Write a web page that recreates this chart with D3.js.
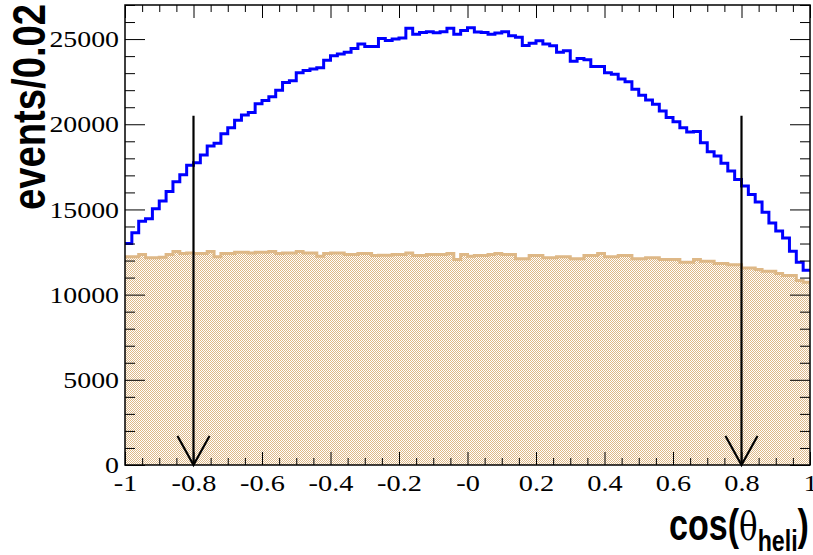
<!DOCTYPE html>
<html>
<head>
<meta charset="utf-8">
<script src="https://cdn.jsdelivr.net/npm/d3@7"></script>
<style>
  html, body { margin: 0; padding: 0; background: #ffffff; }
  svg { display: block; }
</style>
</head>
<body>
<svg id="chart" width="813" height="555"></svg>
<script>
// ---------------- DATA ----------------
const xRange = [-1, 1];
const binWidth = 0.02;

// blue histogram (events / 0.02), 100 bins from -1 to 1
const blueCounts = [
  13000, 13630, 14310, 14450, 15040, 15490, 16060, 16630, 17040, 17590,
  17740, 18200, 18730, 18880, 19450, 19800, 20240, 20550, 20690, 21200,
  21390, 21610, 22000, 22450, 22550, 23020, 23160, 23240, 23310, 23750,
  24020, 24120, 24230, 24450, 24710, 24570, 24570, 25040, 24920, 25000,
  25060, 25630, 25290, 25390, 25430, 25370, 25430, 25630, 25290, 25500,
  25660, 25410, 25390, 25290, 25350, 25430, 25200, 25100, 24630, 24760,
  24900, 24710, 24610, 24230, 24310, 23700, 23860, 23780, 23390, 23390,
  23030, 22940, 22650, 22490, 22060, 21710, 21430, 21180, 20780, 20390,
  20140, 19800, 19550, 19570, 18920, 18390, 18140, 17710, 17250, 16760,
  16370, 15880, 15430, 14840, 14210, 13730, 13330, 12550, 11900, 11430
];

// tan (filled) histogram, 100 bins from -1 to 1
const tanCounts = [
  12220, 12220, 12350, 12160, 12160, 12190, 12350, 12530, 12410, 12450,
  12410, 12410, 12530, 12220, 12410, 12410, 12490, 12490, 12450, 12490,
  12490, 12530, 12410, 12450, 12450, 12530, 12450, 12450, 12250, 12410,
  12450, 12450, 12350, 12350, 12410, 12410, 12290, 12310, 12310, 12350,
  12350, 12450, 12290, 12290, 12350, 12350, 12350, 12410, 12060, 12350,
  12250, 12290, 12290, 12350, 12410, 12350, 12350, 12100, 12100, 12290,
  12290, 12160, 12160, 12220, 12220, 12100, 12100, 12290, 12290, 12410,
  12220, 12220, 12290, 12290, 12100, 12100, 12160, 12160, 12060, 12060,
  12060, 11900, 11900, 12060, 11960, 11960, 11820, 11820, 11760, 11760,
  11570, 11570, 11470, 11370, 11370, 11240, 11120, 11120, 10830, 10730
];

// cut arrows
const arrowX = [-0.8, 0.8];
const arrowTop = 20500;
const arrowTip = 0;

// axes
const yMax = 27000;
const xMajorTicks = [-1, -0.8, -0.6, -0.4, -0.2, 0, 0.2, 0.4, 0.6, 0.8, 1];
const xTickLabels = ["-1", "-0.8", "-0.6", "-0.4", "-0.2", "-0", "0.2", "0.4", "0.6", "0.8", "1"];
const xMinorStep = 0.05;
const yMajorTicks = [0, 5000, 10000, 15000, 20000, 25000];
const yTickLabels = ["0", "5000", "10000", "15000", "20000", "25000"];
const yMinorStep = 1000;
const yTitle = "events/0.02";
const xTitleMain = "cos(";
const xTitleGreek = "θ";
const xTitleSub = "heli";
const xTitleEnd = ")";

// ---------------- LAYOUT ----------------
const plot = { left: 125, right: 810, top: 5, bottom: 465 };

const svg = d3.select("#chart");
const x = d3.scaleLinear().domain(xRange).range([plot.left, plot.right]);
const y = d3.scaleLinear().domain([0, yMax]).range([plot.bottom, plot.top]);

// pattern for the filled histogram
const defs = svg.append("defs");
const pat = defs.append("pattern")
  .attr("id", "tanHatch").attr("patternUnits", "userSpaceOnUse")
  .attr("width", 2).attr("height", 2);
pat.append("rect").attr("width", 2).attr("height", 2).attr("fill", "#ffffff");
pat.append("rect").attr("x", 0).attr("y", 0).attr("width", 1).attr("height", 1).attr("fill", "#deb887");
pat.append("rect").attr("x", 1).attr("y", 1).attr("width", 1).attr("height", 1).attr("fill", "#deb887");

defs.append("clipPath").attr("id", "plotClip")
  .append("rect").attr("x", plot.left).attr("y", plot.top)
  .attr("width", plot.right - plot.left).attr("height", plot.bottom - plot.top);

function stepPoints(counts) {
  const pts = counts.map((v, i) => ({ x: xRange[0] + i * binWidth, v }));
  pts.push({ x: xRange[1], v: counts[counts.length - 1] });
  return pts;
}

const tanPts = stepPoints(tanCounts);
const bluePts = stepPoints(blueCounts);

const area = d3.area().curve(d3.curveStepAfter)
  .x(d => x(d.x)).y0(y(0)).y1(d => y(d.v));
const line = d3.line().curve(d3.curveStepAfter)
  .x(d => x(d.x)).y(d => y(d.v));

const g = svg.append("g").attr("clip-path", "url(#plotClip)");

g.append("path").datum(tanPts).attr("d", area)
  .attr("fill", "url(#tanHatch)").attr("stroke", "none");
g.append("path").datum(tanPts).attr("d", line)
  .attr("fill", "none").attr("stroke", "#deb887").attr("stroke-width", 3);
g.append("path").datum(bluePts).attr("d", line)
  .attr("fill", "none").attr("stroke", "#0000ff").attr("stroke-width", 3);

// arrows
const headW = 16, headH = 29;
const arrows = svg.append("g").attr("stroke", "#000").attr("stroke-width", 2.2).attr("fill", "none");
arrowX.forEach(ax => {
  const px = x(ax);
  arrows.append("line").attr("x1", px).attr("x2", px).attr("y1", y(arrowTop)).attr("y2", y(arrowTip));
  arrows.append("path").attr("d",
    `M${px - headW},${y(arrowTip) - headH} L${px},${y(arrowTip)} L${px + headW},${y(arrowTip) - headH}`);
});

// ---------------- AXES ----------------
const fontTick = "'Liberation Serif', 'Times New Roman', serif";
const minorX = d3.range(xRange[0], xRange[1] + 1e-9, xMinorStep).filter(v => !xMajorTicks.some(t => Math.abs(t - v) < 1e-6));
const minorY = d3.range(0, yMax + 1e-9, yMinorStep).filter(v => !yMajorTicks.includes(Math.round(v)));

function styleAxis(sel) {
  sel.select(".domain").remove();
  sel.selectAll("line").attr("stroke", "#000").attr("stroke-width", 1);
}
function widenLabels(sel, k) {
  sel.selectAll("text").each(function () {
    const L = this.getComputedTextLength();
    d3.select(this).attr("textLength", L * k).attr("lengthAdjust", "spacingAndGlyphs");
  });
}

// bottom major with labels
const axB = svg.append("g").attr("transform", `translate(0,${plot.bottom})`)
  .call(d3.axisBottom(x).tickValues(xMajorTicks).tickSize(-13).tickPadding(9)
    .tickFormat((d, i) => xTickLabels[i]));
styleAxis(axB);
axB.selectAll("text").attr("font-family", fontTick).attr("font-size", 24).attr("fill", "#000");
widenLabels(axB, 1.18);
// bottom minor
styleAxis(svg.append("g").attr("transform", `translate(0,${plot.bottom})`)
  .call(d3.axisBottom(x).tickValues(minorX).tickSize(-7).tickFormat("")));
// top major/minor
styleAxis(svg.append("g").attr("transform", `translate(0,${plot.top})`)
  .call(d3.axisTop(x).tickValues(xMajorTicks).tickSize(-13).tickFormat("")));
styleAxis(svg.append("g").attr("transform", `translate(0,${plot.top})`)
  .call(d3.axisTop(x).tickValues(minorX).tickSize(-7).tickFormat("")));

// left major with labels
const axL = svg.append("g").attr("transform", `translate(${plot.left},0)`)
  .call(d3.axisLeft(y).tickValues(yMajorTicks).tickSize(-20).tickPadding(6)
    .tickFormat((d, i) => yTickLabels[i]));
styleAxis(axL);
axL.selectAll("text").attr("font-family", fontTick).attr("font-size", 24).attr("fill", "#000");
widenLabels(axL, 1.16);
styleAxis(svg.append("g").attr("transform", `translate(${plot.left},0)`)
  .call(d3.axisLeft(y).tickValues(minorY).tickSize(-10).tickFormat("")));
// right
styleAxis(svg.append("g").attr("transform", `translate(${plot.right},0)`)
  .call(d3.axisRight(y).tickValues(yMajorTicks).tickSize(-20).tickFormat("")));
styleAxis(svg.append("g").attr("transform", `translate(${plot.right},0)`)
  .call(d3.axisRight(y).tickValues(minorY).tickSize(-10).tickFormat("")));

// frame
svg.append("rect").attr("x", plot.left).attr("y", plot.top)
  .attr("width", plot.right - plot.left).attr("height", plot.bottom - plot.top)
  .attr("fill", "none").attr("stroke", "#000").attr("stroke-width", 1.5);

// ---------------- TITLES ----------------
const fontTitle = "'Liberation Sans', Arial, Helvetica, sans-serif";
svg.append("text")
  .attr("transform", `translate(45,4) rotate(-90)`)
  .attr("text-anchor", "end")
  .attr("font-family", fontTitle).attr("font-weight", "bold").attr("font-size", 46)
  .attr("textLength", 206).attr("lengthAdjust", "spacingAndGlyphs")
  .attr("fill", "#000")
  .text(yTitle);

const xt = svg.append("g");
const xtText = xt.append("text")
  .attr("font-family", fontTitle).attr("font-weight", "bold").attr("font-size", 44)
  .attr("fill", "#000");
xtText.append("tspan").text(xTitleMain);
xtText.append("tspan").attr("font-family", "'DejaVu Serif', serif").attr("font-weight", "normal").attr("font-size", 40).text(xTitleGreek);
xtText.append("tspan").attr("font-size", 30).attr("dy", 11).text(xTitleSub);
xtText.append("tspan").attr("dy", -11).text(xTitleEnd);
const bb = xtText.node().getBBox();
const targetW = 140;
const sx = targetW / bb.width;
xt.attr("transform", `translate(${809 - targetW},540) scale(${sx},1) translate(${-bb.x},0)`);
</script>
</body>
</html>
